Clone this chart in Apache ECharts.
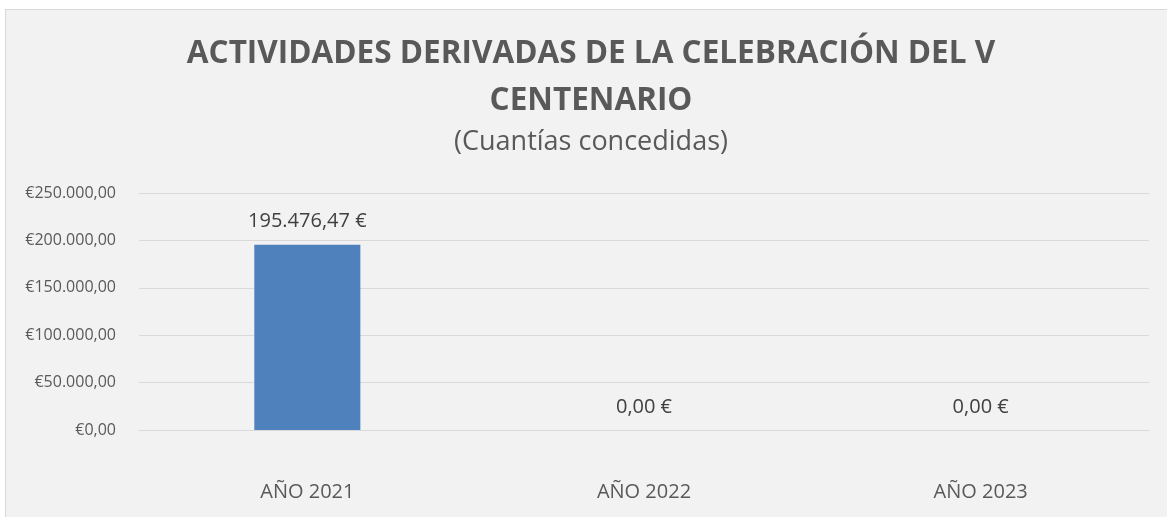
<!DOCTYPE html>
<html>
<head>
<meta charset="utf-8">
<script src="https://cdn.jsdelivr.net/npm/echarts@6/dist/echarts.min.js"></script>
<style>
  html, body { margin: 0; padding: 0; background: #ffffff; overflow: hidden; }
  #box { position: absolute; left: 5px; top: 9px; width: 1170px; height: 520px;
         border: 1px solid #d9d9d9; background: #f2f2f2; }
  #column { width: 1170px; height: 520px; }
</style>
</head>
<body>
<div id="box"><div id="column"></div></div>
<script>
// datos del gráfico
var categorias = ['AÑO 2021', 'AÑO 2022', 'AÑO 2023'];
var cuantias = [195476.47, 0, 0];
var tituloLineas = ['ACTIVIDADES DERIVADAS DE LA CELEBRACIÓN DEL V', 'CENTENARIO'];
var subtitulo = '(Cuantías concedidas)';

var column = echarts.init(document.getElementById('column'));

function fmtEje(v) {
    // €250.000,00
    var ent = Math.round(v).toString().replace(/\B(?=(\d{3})+(?!\d))/g, '.');
    return '€' + ent + ',00';
}
function fmtDato(v) {
    var partes = v.toFixed(2).split('.');
    var ent = partes[0].replace(/\B(?=(\d{3})+(?!\d))/g, '.');
    return ent + ',' + partes[1] + ' €';
}

var fuenteTexto = '"Open Sans", "Noto Sans", sans-serif';

var option = {
    animation: false,
    backgroundColor: '#f2f2f2',
    title: [{
        text: tituloLineas.join('\n'),
        left: 'center',
        top: 16,
        textStyle: {
            fontFamily: fuenteTexto,
            fontWeight: 'bold',
            fontSize: 31.5,
            lineHeight: 47,
            color: '#595959'
        }
    }, {
        text: subtitulo,
        left: 'center',
        top: 114,
        textStyle: {
            fontFamily: fuenteTexto,
            fontWeight: 'normal',
            fontSize: 27,
            color: '#595959'
        }
    }],
    grid: {
        left: 133,
        right: 27,
        top: 183,
        bottom: 100
    },
    xAxis: {
        type: 'category',
        data: categorias,
        axisLine: { lineStyle: { color: '#d9d9d9', width: 1 } },
        axisTick: { show: false },
        axisLabel: {
            margin: 52,
            fontFamily: fuenteTexto,
            fontSize: 20,
            color: '#595959'
        }
    },
    yAxis: {
        type: 'value',
        min: 0,
        max: 250000,
        interval: 50000,
        axisLine: { show: false },
        axisTick: { show: false },
        splitLine: { lineStyle: { color: '#d9d9d9', width: 1 } },
        axisLabel: {
            margin: 23,
            formatter: fmtEje,
            fontFamily: fuenteTexto,
            fontSize: 16,
            color: '#595959'
        }
    },
    series: [{
        name: 'Cuantías',
        type: 'bar',
        data: cuantias,
        barWidth: '31.5%',
        itemStyle: { color: '#4f81bd' },
        label: {
            show: true,
            position: 'top',
            distance: 13,
            formatter: function (p) { return fmtDato(p.value); },
            fontFamily: fuenteTexto,
            fontSize: 20,
            color: '#404040'
        }
    }]
};
column.setOption(option);
</script>
</body>
</html>
